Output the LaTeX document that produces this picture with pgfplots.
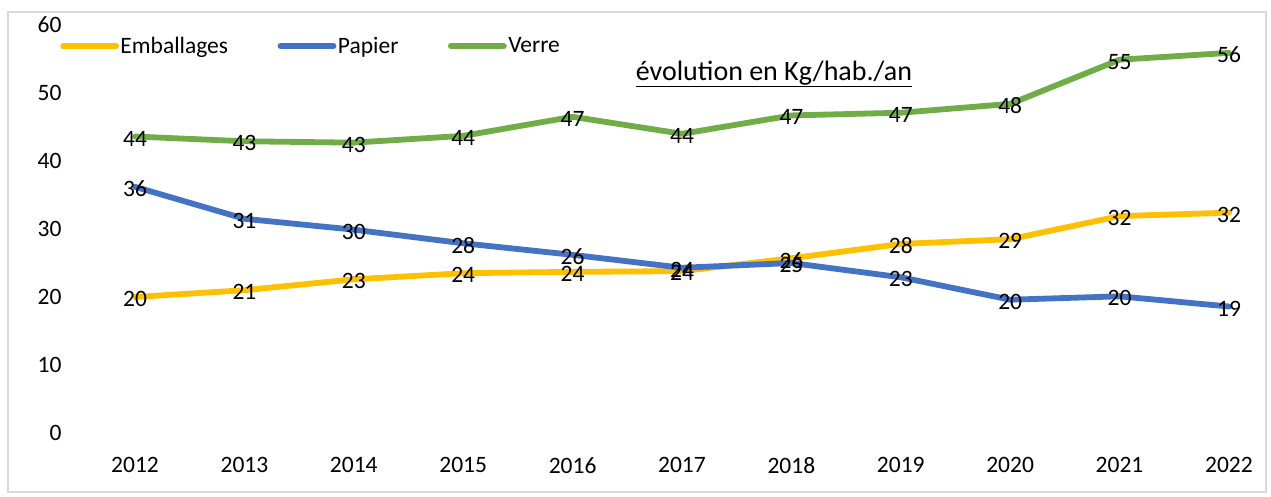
\documentclass[border=0pt]{standalone}
\usepackage{pgfplots}
\pgfplotsset{compat=1.18}
\usepackage{pgfplotstable}
\usepackage{fontspec}
\setmainfont{Carlito}
\definecolor{cEmb}{HTML}{FFC000}
\definecolor{cPap}{HTML}{4472C4}
\definecolor{cVer}{HTML}{70AD47}
\definecolor{cFrame}{HTML}{D9D9D9}

\pgfplotstableread{
x y lab
2012 20.0 20
2013 21.0 21
2014 22.6 23
2015 23.5 24
2016 23.7 24
2017 23.8 24
2018 25.7 26
2019 27.8 28
2020 28.5 29
2021 31.9 32
2022 32.4 32
}\emb
\pgfplotstableread{
x y lab
2012 36.2 36
2013 31.5 31
2014 29.9 30
2015 27.9 28
2016 26.2 26
2017 24.3 24
2018 25.0 25
2019 22.9 23
2020 19.6 20
2021 20.1 20
2022 18.6 19
}\pap
\pgfplotstableread{
x y lab
2012 43.6 44
2013 42.9 43
2014 42.7 43
2015 43.7 44
2016 46.5 47
2017 44.0 44
2018 46.7 47
2019 47.1 47
2020 48.4 48
2021 54.9 55
2022 55.9 56
}\ver

\begin{document}
\begin{tikzpicture}
\useasboundingbox (-60bp,-64bp) rectangle (1211bp,433bp);
\fill[white] (-60bp,-64bp) rectangle (1211bp,433bp);
\draw[cFrame, line width=1.5bp] (-52bp,-59bp) rectangle (1206bp,421bp);
\begin{axis}[
  at={(0,0)}, anchor=south west,
  scale only axis,
  width=1200bp, height=408bp,
  xmin=2011.314, xmax=2022.283,
  ymin=0, ymax=60,
  xtick={2012,...,2022},
  ytick={0,10,...,60},
  axis line style={draw=none},
  major tick length=0pt,
  clip=false,
  /pgf/number format/assume math mode=true,
  /pgf/number format/1000 sep={},
  ticklabel style={font=\fontsize{23.5bp}{28bp}\selectfont, text=black},
  xticklabel style={yshift=-21bp},
  yticklabel style={xshift=5bp},
  every axis plot/.append style={line width=5.8bp, line join=round, line cap=round},
  nodes near coords,
  point meta=explicit symbolic,
  every node near coord/.append style={anchor=center, font=\fontsize{23.5bp}{28bp}\selectfont, text=black, yshift=-2bp},
  legend columns=3,
  legend style={draw=none, fill=none, at={(0,0.9485)}, anchor=west, inner sep=0pt,
    font=\fontsize{23.5bp}{28bp}\selectfont,
    /tikz/every even column/.append style={column sep=48bp},
    nodes={inner sep=1.5bp}},
  legend cell align=left,
  legend image code/.code={\draw[#1, line width=5.8bp, line cap=round] (0bp,0bp) -- (53bp,0bp);},
]
\addplot[cEmb] table[x=x, y=y, meta=lab] {\emb};
\addlegendentry{Emballages}
\addplot[cPap] table[x=x, y=y, meta=lab] {\pap};
\addlegendentry{Papier}
\addplot[cVer] table[x=x, y=y, meta=lab] {\ver};
\addlegendentry{Verre}
\node[anchor=base, font=\fontsize{28bp}{33bp}\selectfont, inner sep=0pt] at (rel axis cs:0.595,0.865) {\underline{évolution en Kg/hab./an}};
\end{axis}
\end{tikzpicture}
\end{document}
